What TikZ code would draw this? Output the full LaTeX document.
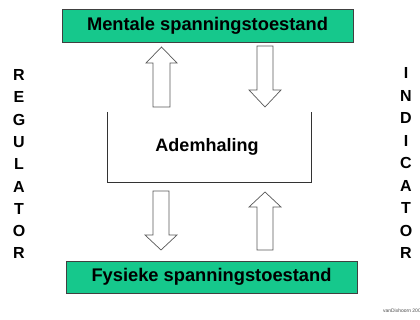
\documentclass[tikz,border=0pt]{standalone}
\usepackage{fontspec}
\setmainfont{Liberation Sans}
\begin{document}
\begin{tikzpicture}[x=1pt,y=-1pt,
  greenbox/.style={draw=black!75,line width=0.9pt,fill=boxgreen,inner sep=0pt,font=\bfseries\fontsize{18.3}{20}\selectfont},
  letter/.style={font=\bfseries\fontsize{16}{18}\selectfont,inner sep=0pt},
  blockarrow/.style={draw=black!65,line width=0.7pt,fill=white,line join=miter}]
\definecolor{boxgreen}{RGB}{22,200,140}
\useasboundingbox (0,0) rectangle (420,320);
\fill[white] (0,0) rectangle (420,320);
% boxes
\node[greenbox,minimum width=291pt,minimum height=33pt] (top) at (207.5,25.5) {Mentale spanningstoestand};
\node[greenbox,minimum width=291pt,minimum height=32pt] (bot) at (211.5,277) {Fysieke spanningstoestand};
% Ademhaling
\node[font=\bfseries\fontsize{18}{20}\selectfont,inner sep=0pt] (adem) at (207,147) {Ademhaling};
\coordinate (uL) at (107,112);
\coordinate (uR) at (311,112);
\draw[black!80,line width=0.8pt] (uL) -- (107,182) -- (311,182) -- (uR);
% block arrows
\draw[blockarrow] (153,107) -- (170,107) -- (170,63) -- (177,63) -- (161.5,47) -- (146,63) -- (153,63) -- cycle;
\draw[blockarrow] (257,46) -- (273,46) -- (273,90) -- (281,90) -- (265,107) -- (249,90) -- (257,90) -- cycle;
\draw[blockarrow] (153,191) -- (169,191) -- (169,235) -- (177,235) -- (161,250) -- (145,235) -- (153,235) -- cycle;
\draw[blockarrow] (257,250) -- (273,250) -- (273,207) -- (281,207) -- (265,192) -- (249,207) -- (257,207) -- cycle;
% vertical words
\foreach \c [count=\i from 0] in {R,E,G,U,L,A,T,O,R}
  \node[letter] (reg\i) at (19,{75+22.3*\i}) {\c};
\foreach \c [count=\i from 0] in {I,N,D,I,C,A,T,O,R}
  \node[letter] (ind\i) at (406,{73+22.5*\i}) {\c};
\node[anchor=east,inner sep=0pt,font=\fontsize{5}{6}\selectfont,text=black!70] (foot) at (421,311) {vanDixhoorn 200};
\end{tikzpicture}
\end{document}
